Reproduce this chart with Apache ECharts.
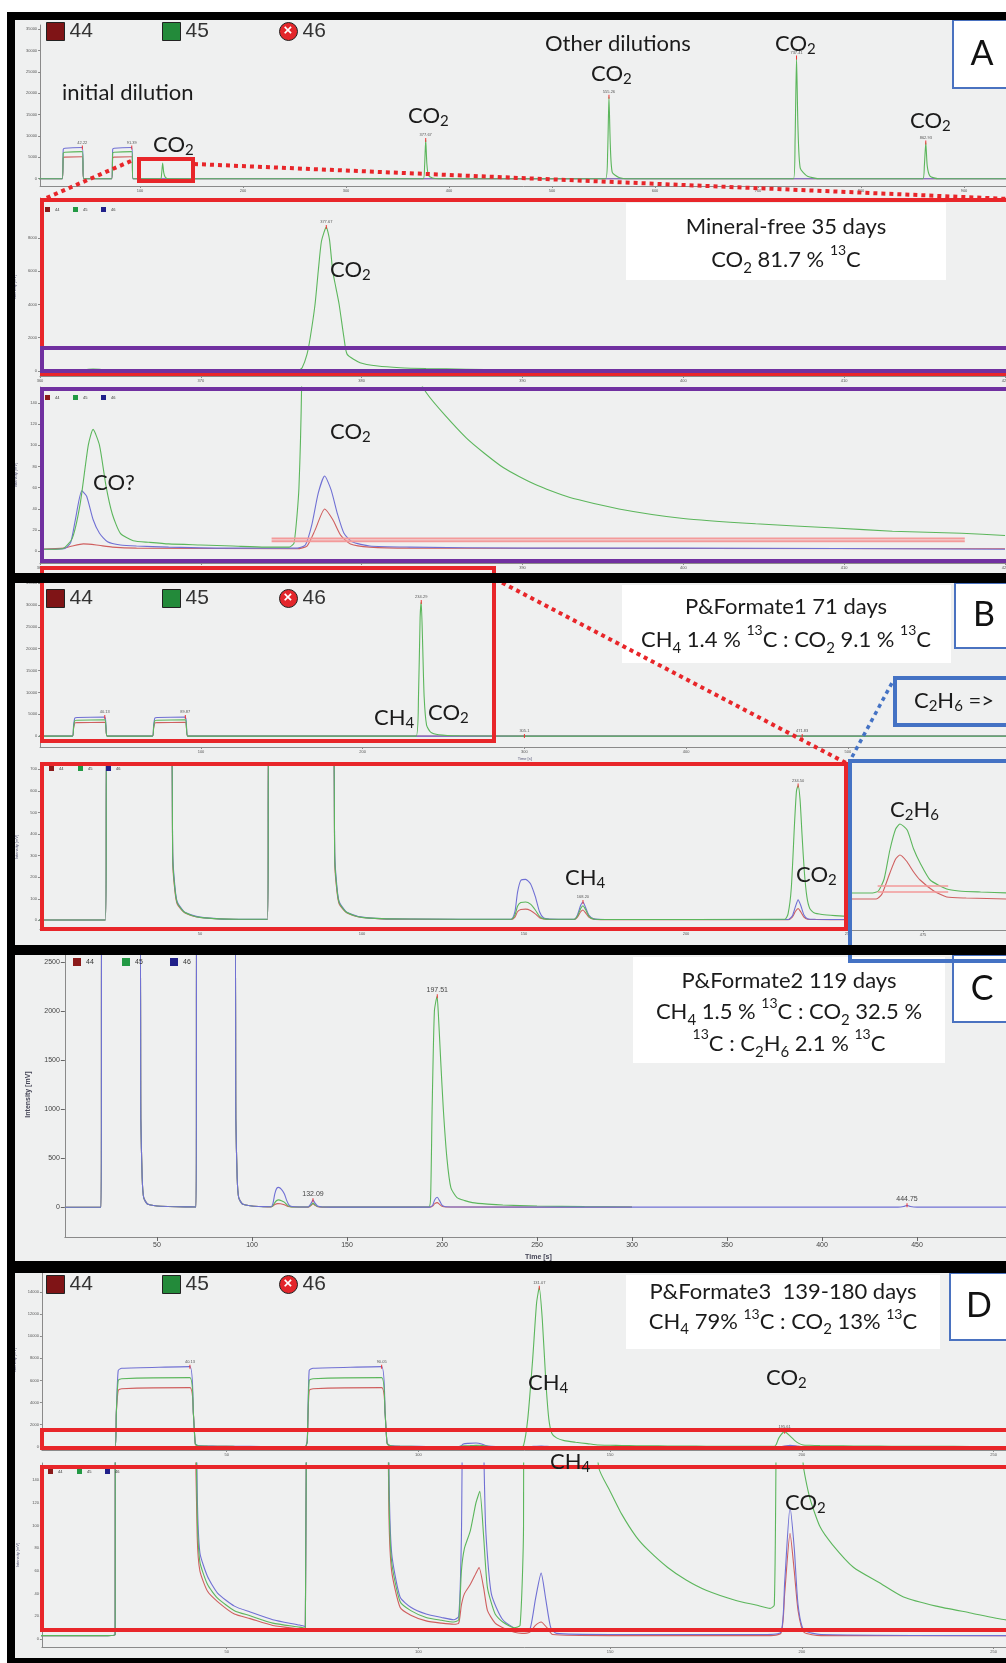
<!DOCTYPE html>
<html><head><meta charset="utf-8">
<script src="https://cdn.jsdelivr.net/npm/echarts@6/dist/echarts.min.js"></script>
<style>html,body{margin:0;padding:0;background:#fff}#c{width:1006px;height:1663px}</style>
</head><body><div id="c"></div>
<script>
// ---------------- DATA ----------------
// Panel A, top overview (time s, intensity mV)
const a1Red = [[0,0],[24.5,0],[25.5,4900],[27,5050],[44,5150],[45.3,0],[72.5,0],[73.5,4900],[75,5050],[92,5150],[93.3,0],[1000,0]];
const a1Green = [[0,0],[24.5,0],[25.5,6000],[27,6200],[44,6350],[45.3,0],[72.5,0],[73.5,6000],[75,6200],[92,6350],[93.3,0],[120,0],[121,1200],[122,3700],[123,1500],[124.5,400],[128,0],[375,0],[376.3,3000],[377.4,9100],[378.5,3500],[380,800],[384,150],[390,0],[552,0],[554,6000],[555.3,19200],[556.6,8000],[558.5,1500],[565,300],[575,0],[734.5,0],[736,9000],[737.4,28400],[738.8,12000],[741,2500],[748,600],[760,0],[860,0],[861.5,3000],[862.9,8500],[864.3,3000],[867,600],[875,0],[1000,0]];
const a1Blue = [[0,0],[24.5,0],[25.5,6900],[27,7150],[44,7300],[45.3,0],[72.5,0],[73.5,6900],[75,7150],[92,7300],[93.3,0],[1000,0]];
const a1Labels = [[44,7300,'42.22'],[92,7300,'91.39'],[377.4,9100,'377.67'],[555.3,19200,'555.26'],[737.4,28400,'737.41'],[862.9,8500,'862.93']];
// Panel A, zoomed (shared by both zoom levels)
const aRed = [[360,2],[361.5,3],[362,5],[362.7,7],[363.5,6],[364.5,4],[366,3],[376,2.5],[376.6,5],[377.1,20],[377.7,40],[378.2,30],[378.7,15],[379.3,7],[380.5,4],[383,3],[420,2.5]];
const aGreen = [[360,2],[361.4,2.5],[362,12],[362.5,45],[363,100],[363.3,115],[363.7,100],[364.1,62],[364.5,35],[365,17],[365.8,10],[366.8,8.5],[368,7],[370,6],[372,5],[374,4],[375.5,4],[375.8,8],[376.1,60],[376.3,200],[376.6,1000],[376.8,2000],[377.1,4000],[377.3,6000],[377.5,7800],[377.8,8650],[378.0,7900],[378.2,6000],[378.4,5000],[378.6,4000],[378.9,2000],[379.1,1000],[379.9,500],[381,300],[382.4,200],[384,150],[386.5,107],[388.8,79],[390.8,63],[392.9,51],[396,40],[400,31],[404.5,26],[409.4,22],[413,19],[417.3,17],[420,15]];
const aBlue = [[360,2],[361.5,2.5],[361.9,8],[362.2,30],[362.6,57],[362.9,52],[363.3,30],[363.7,17],[364.2,9],[365,6],[366,5],[368,4],[372,3],[376,3],[376.5,6],[376.9,25],[377.3,55],[377.7,71],[378.1,58],[378.5,35],[378.9,17],[379.4,9],[380.5,5],[383,4],[390,3],[400,3],[420,2]];
const aInt1 = [[374.4,9.5],[417.5,9.5]];
const aInt2 = [[374.4,12],[417.5,12]];
// Panel B overview
const b1Red = [[0,0],[20.5,0],[21.2,1800],[22,3000],[23.5,3080],[40.5,3150],[41.2,1800],[42,0],[70,0],[70.7,1800],[71.5,3000],[73,3080],[90.3,3150],[91,1800],[91.8,0],[600,0]];
const b1Green = [[0,0],[20.5,0],[21.2,2000],[22,3550],[23.5,3620],[40.5,3700],[41.2,2000],[42,0],[70,0],[70.7,2000],[71.5,3550],[73,3620],[90.3,3700],[91,2000],[91.8,0],[233,0],[234.5,9000],[235.5,27000],[236.2,30700],[237,22000],[238,9000],[239.5,2500],[242,900],[247,300],[260,60],[300,0],[600,0]];
const b1Blue = [[0,0],[20.5,0],[21.2,2500],[22,4150],[23.5,4250],[40.5,4360],[41.2,2500],[42,0],[70,0],[70.7,2500],[71.5,4150],[73,4250],[90.3,4360],[91,2500],[91.8,0],[600,0]];
const b1Labels = [[40.5,4360,'40.13'],[90.3,4360,'89.87'],[236.2,30700,'234.29'],[300,0,'305.1'],[471.8,0,'471.83']];
// Panel B zoom
const b2Red = [[0,2],[20.8,2],[21.3,900],[41,900],[41.6,260],[42.3,130],[43,75],[45,38],[47.5,21],[50,13],[56,6],[62,4],[70.8,4],[71.3,900],[91,900],[91.6,260],[92.3,130],[93,75],[95,38],[97.5,21],[100,13],[106,7],[115,5],[146,4],[147.2,15],[148,40],[149,50],[150.5,52],[152,46],[153.5,30],[154.8,12],[156,6],[158,4],[165.5,4],[166.5,15],[167.5,40],[168.2,48],[169,35],[170,15],[171.5,5],[175,3],[231.5,3],[232.8,15],[233.8,42],[234.6,55],[235.4,40],[236.4,15],[237.5,5],[240,4],[250,3]];
const b2Green = [[0,2],[20.8,2],[21.3,900],[41,900],[41.6,280],[42.3,140],[43,80],[45,40],[47.5,23],[50,14],[56,7],[62,5],[70.8,5],[71.3,900],[91,900],[91.6,280],[92.3,140],[93,80],[95,40],[97.5,23],[100,14],[106,8],[115,6],[146,5],[147.2,25],[148,65],[149,83],[150.5,85],[152,75],[153.5,48],[154.8,18],[156,8],[158,5],[165.5,5],[166.5,20],[167.5,55],[168.2,68],[169,50],[170,20],[171.5,6],[175,4],[230.5,5],[231.5,30],[232.5,150],[233.5,450],[234.1,600],[234.6,625],[235.2,560],[235.8,400],[236.5,230],[237.3,110],[238.2,55],[239.5,35],[242,27],[246,22],[250,19]];
const b2Blue = [[0,2],[20.8,2],[21.3,900],[41,900],[41.6,300],[42.3,150],[43,85],[45,42],[47.5,25],[50,15],[56,7],[62,5],[70.8,5],[71.3,900],[91,900],[91.6,300],[92.3,150],[93,85],[95,42],[97.5,25],[100,15],[106,8],[115,6],[146,5],[147.2,40],[148,130],[149,185],[150.5,190],[152,170],[153.5,110],[154.8,40],[156,12],[158,6],[165.5,5],[166.5,25],[167.5,70],[168.2,85],[169,60],[170,25],[171.5,7],[175,4],[231.5,4],[232.8,20],[233.8,65],[234.6,95],[235.4,70],[236.4,25],[237.5,8],[240,5],[250,4]];
const b2Labels = [[234.6,625,'234.50'],[168.2,85,'168.20']];
// Panel B, C2H6 inset (relative units)
const b3Red = [[465,0],[468.5,0],[469.3,5],[470.4,26],[471.2,40],[471.8,44],[472.7,38],[473.7,27],[474.6,19],[476.5,8],[478.3,2],[481,1],[487,0]];
const b3Green = [[465,6],[468,6],[468.8,8],[469.6,20],[470.4,49],[471.2,70],[471.8,75],[472.8,69],[473.7,50],[474.6,36],[476,19],[478.3,10],[480,8],[483,7],[487,6]];
const b3Int1 = [[468.7,7],[478.5,7]];
const b3Int2 = [[468.7,13],[478.5,13]];
// Panel C
const cRed = [[1.5,3],[20.5,3],[21,3000],[41,3000],[41.5,900],[42.2,300],[43,100],[45,35],[50,15],[56,10],[65,7],[70.5,6],[71,3000],[91,3000],[91.5,900],[92.2,300],[93,100],[95,35],[100,15],[106,9],[110,7],[111,15],[112,30],[113.5,40],[115,38],[117,28],[119,10],[121,5],[129.5,4],[131,20],[132.1,38],[133.2,22],[134.5,8],[137,4],[193.5,4],[195,15],[196.2,40],[197.5,50],[198.7,32],[200,12],[202,5],[300,4]];
const cGreen = [[1.5,3],[20.5,3],[21,3000],[41,3000],[41.5,900],[42.2,300],[43,100],[45,35],[50,15],[56,10],[65,7],[70.5,6],[71,3000],[91,3000],[91.5,900],[92.2,300],[93,100],[95,35],[100,15],[106,9],[110,8],[111,20],[112,50],[113,72],[114,78],[115.5,70],[117,55],[118.3,30],[119.5,12],[121,6],[125,5],[129.5,5],[131,25],[132.1,45],[133.2,28],[134.5,10],[137,5],[150,4],[193,5],[194,100],[194.8,1000],[196,2000],[197.4,2150],[198,2000],[199.3,1500],[200.7,1000],[202.6,500],[204.7,200],[207.9,100],[212,70],[216,50],[224,35],[232,25],[250,15],[275,9],[300,6]];
const cBlue = [[1.5,3],[20.5,3],[21,3000],[41,3000],[41.5,900],[42.2,300],[43,100],[45,35],[50,15],[56,10],[65,7],[70.5,6],[71,3000],[91,3000],[91.5,900],[92.2,300],[93,100],[95,35],[100,15],[106,9],[110,8],[111,40],[112,140],[113,195],[114,205],[115.5,185],[117,140],[118.3,70],[119.5,25],[121,10],[125,6],[129.5,6],[131,40],[132.1,75],[133.2,45],[134.5,15],[137,6],[150,4],[193.5,4],[195,20],[196.2,80],[197.5,105],[198.7,70],[200,25],[202,8],[210,5],[300,4],[440,4],[443,10],[444.75,22],[446.5,10],[450,4],[500,4]];
const cLabels = [[197.51,2150,'197.51'],[132.09,75,'132.09'],[444.75,22,'444.75']];
// Panel D (shared by both zoom levels)
const dRed = [[0,3],[19,3],[20.9,4],[21.2,3000],[21.7,5100],[22.6,5250],[40.4,5350],[41.3,3000],[41.8,200],[42.3,90],[43,60],[45,42],[47.6,33],[52,22],[56.1,18],[62,12],[69,9],[70.5,8.5],[71,500],[71.5,5100],[72.5,5250],[90.4,5350],[91.3,3000],[91.8,300],[92.3,110],[93,60],[95.2,28],[98,21],[102,16],[106,14],[109.2,13],[110.5,14],[111.2,30],[112,40],[113.5,48],[115,58],[115.8,63],[117,45],[118,25],[120,14],[122,10],[125,6],[127,5],[129,6],[130.5,12],[132,15],[133.5,10],[135,4],[150,3],[190,3],[194.5,5],[195.5,40],[196.9,93],[198,60],[199,25],[200.5,6],[205,3],[262,3]];
const dGreen = [[0,3],[19,3],[20.9,4],[21.2,3000],[21.7,6000],[22.6,6150],[40.4,6250],[41.3,3000],[41.8,250],[42.3,110],[43,68],[45,48],[47.6,36],[52,25],[56.1,20.5],[62,14],[69,10.5],[70.5,9.5],[71,500],[71.5,6000],[72.5,6150],[90.4,6250],[91.3,3000],[91.8,350],[92.3,130],[93,68],[95.2,33],[98,25],[102,19],[106,16.5],[109.2,15],[110.5,17],[111.2,60],[112,80],[113.5,95],[115,120],[116,130],[117,90],[118,45],[120,22],[122,15],[125,10],[126.5,12],[127.4,100],[128.5,2500],[129.8,8000],[130.8,13000],[131.5,14400],[132.3,11500],[133.2,6000],[134,2500],[134.8,1200],[136,800],[138,550],[141,400],[144,280],[147,151],[150,130],[153,110],[156.8,90],[160,78],[165,63],[169.8,52],[175,43],[182.8,34],[188,30],[191.7,27],[192.8,30],[193.3,200],[194,800],[195.5,1360],[196.8,1000],[198,600],[199.2,300],[200.3,155],[202,125],[204.7,99],[208,83],[213.5,63],[220,50],[226.5,37],[235,29],[244,23],[253,17],[262,15]];
const dBlue = [[0,3],[19,3],[20.9,4],[21.2,3000],[21.7,6900],[22.6,7100],[40.4,7250],[41.3,3000],[41.8,300],[42.3,130],[43,76],[45,55],[47.6,40.5],[52,29],[56.1,23.8],[62,17],[69,12.3],[70.5,11],[71,500],[71.5,6900],[72.5,7100],[90.4,7250],[91.3,3000],[91.8,400],[92.3,150],[93,76],[95.2,37],[98,28],[102,22],[106,19],[109.2,17],[110.5,20],[111.2,90],[111.7,250],[113,300],[115,330],[116.5,250],[117.5,100],[119,40],[122,17],[127,7],[129,8],[130.5,35],[132,58],[133.2,35],[134.5,10],[136,5],[150,4],[190,4],[194.5,6],[195.5,50],[196.9,116],[198,80],[199,30],[200.5,8],[205,4],[262,3]];
const dLabels = [[40.4,7250,'40.13'],[90.4,7250,'90.05'],[131.5,14400,'131.07'],[195.5,1360,'195.61']];
// Tick values
const tA1x = [100,200,300,400,500,600,700,800,900], tA1y = [0,5000,10000,15000,20000,25000,30000,35000];
const tA2x = [360,370,380,390,400,410,420], tA2y = [0,2000,4000,6000,8000], tA3y = [0,20,40,60,80,100,120,140];
const tB1x = [100,200,300,400,500,600], tB1y = [0,5000,10000,15000,20000,25000,30000,35000];
const tB2x = [50,100,150,200,250], tB2y = [0,100,200,300,400,500,600,700], tB3x = [475];
const tCx = [50,100,150,200,250,300,350,400,450,500], tCy = [0,500,1000,1500,2000,2500];
const tDx = [50,100,150,200,250], tD1y = [0,2000,4000,6000,8000,10000,12000,14000], tD2y = [0,20,40,60,80,100,120,140];

// ---------------- STYLE / BUILD ----------------
const F = "Lato, 'Open Sans', sans-serif";
const FA = "'Liberation Sans', Arial, sans-serif";
const RED = '#cf5f5f', GRN = '#5cb65c', BLU = '#7070d4';

const grids = [], xAxes = [], yAxes = [], series = [], legends = [], gfx = [];

function addGrid(left, width, top, height){ grids.push({left, width, top, height, containLabel:false, outerBoundsMode:'none'}); return grids.length-1; }
function ax(gi, min, max, ticks, fs, extra){
  return Object.assign({gridIndex:gi, type:'value', min, max,
    axisLine:{show:true, onZero:false, lineStyle:{color:'#8a8a8a', width:1}},
    axisTick:{show:true, length:2, customValues:ticks, lineStyle:{color:'#8a8a8a'}},
    axisLabel:{fontSize:fs, color:'#555', margin:3, customValues:ticks, fontFamily:FA, formatter:v=>String(v)},
    splitLine:{show:false}}, extra||{});
}
function mp(list, fs, col){
  return {symbol:'rect', symbolSize:[1,4], itemStyle:{color:'#e33'}, silent:true,
    label:{show:true, position:'top', distance:1, fontSize:fs, color:col||'#555', fontFamily:FA, formatter:p=>p.name},
    data:list.map(d=>({coord:[d[0],d[1]], name:d[2]}))};
}
function S(name, gi, data, color, extra){
  series.push(Object.assign({type:'line', name, xAxisIndex:gi, yAxisIndex:gi, data, showSymbol:false, symbol:'none',
    smooth:0.2, clip:true, lineStyle:{width:1.1, color}, itemStyle:{color}, silent:true, z:3}, extra||{}));
}
function trio(gi, r, g, b, lab, fs){
  S('44', gi, r, RED); S('46', gi, b, BLU); S('45', gi, g, GRN, lab ? {markPoint: mp(lab, fs)} : {});
}
const yName = (gap)=>({name:'Intensity [mV]', nameLocation:'middle', nameGap:gap, nameTextStyle:{fontSize:4, color:'#557'}});
// grids (left, width, top, height)
const gA1 = addGrid(37+3*1.03, 997*1.03, 25, 161);
xAxes.push(ax(gA1, 3, 1000, tA1x, 4)); yAxes.push(ax(gA1, -1700, 36000, tA1y, 4, yName(24)));
trio(gA1, a1Red, a1Green, a1Blue, a1Labels, 4);

const gA2 = addGrid(40, 965, 198, 178);
xAxes.push(ax(gA2, 360, 420, tA2x, 4)); yAxes.push(ax(gA2, -300, 10400, tA2y, 4, yName(22)));
trio(gA2, aRed, aGreen, aBlue, [[377.8,8650,'377.67']], 4);

const gA3 = addGrid(40, 965, 387, 176);
xAxes.push(ax(gA3, 360, 420, tA2x, 4)); yAxes.push(ax(gA3, -11, 155, tA3y, 4, yName(22)));
trio(gA3, aRed, aGreen, aBlue, null, 4);
S('int', gA3, aInt1, '#f39a9a', {smooth:false, lineStyle:{width:2, color:'#f39a9a'}});
S('int', gA3, aInt2, '#f39a9a', {smooth:false, lineStyle:{width:2, color:'#f39a9a'}});

const gB1 = addGrid(39.3+0.5*1.617, 599.5*1.617, 581, 166);
xAxes.push(ax(gB1, 0.5, 600, tB1x, 4, {name:'Time [s]', nameLocation:'middle', nameGap:10, nameTextStyle:{fontSize:4, color:'#557'}}));
yAxes.push(ax(gB1, -2500, 35500, tB1y, 4, yName(24)));
trio(gB1, b1Red, b1Green, b1Blue, b1Labels, 4);

const gB2 = addGrid(38+0.6*3.24, 249.4*3.24, 765, 164);
xAxes.push(ax(gB2, 0.6, 250, tB2x, 4)); yAxes.push(ax(gB2, -40, 720, tB2y, 4, yName(20)));
trio(gB2, b2Red, b2Green, b2Blue, b2Labels, 4);

const gB3 = addGrid(851, 22*7.2, 761, 169);
xAxes.push(ax(gB3, 465, 487, tB3x, 4)); yAxes.push(ax(gB3, -31, 138, [], 4, {show:false}));
S('44', gB3, b3Red, RED); S('45', gB3, b3Green, GRN);
S('int', gB3, b3Int1, '#f39a9a', {smooth:false, lineStyle:{width:1.5, color:'#f39a9a'}});
S('int', gB3, b3Int2, '#f39a9a', {smooth:false, lineStyle:{width:1.5, color:'#f39a9a'}});

const gC = addGrid(62+1.5*1.9, 498.5*1.9, 952, 285);
xAxes.push(ax(gC, 1.5, 500, tCx, 7, {name:'Time [s]', nameLocation:'middle', nameGap:17, nameTextStyle:{fontSize:7, fontWeight:'bold', color:'#445'}, axisLabel:{fontSize:7, color:'#444', margin:5, customValues:tCx, fontFamily:FA, formatter:v=>String(v)}, axisTick:{show:true, length:4, customValues:tCx, lineStyle:{color:'#666'}}}));
yAxes.push(ax(gC, -300, 2600, tCy, 7, {name:'Intensity [mV]', nameLocation:'middle', nameGap:33, nameTextStyle:{fontSize:7, fontWeight:'bold', color:'#445'}, axisLabel:{fontSize:7, color:'#444', margin:5, customValues:tCy, fontFamily:FA, formatter:v=>String(v)}, axisTick:{show:true, length:4, customValues:tCy, lineStyle:{color:'#666'}}}));
S('44', gC, cRed, RED); S('45', gC, cGreen, GRN); S('46', gC, cBlue, BLU, {markPoint: mp(cLabels, 7, '#444')});

const gD1 = addGrid(35+1.8*3.8346, 260.2*3.8346, 1270, 180);
xAxes.push(ax(gD1, 1.8, 262, tDx, 4)); yAxes.push(ax(gD1, -300, 16000, tD1y, 4, yName(24)));
trio(gD1, dRed, dGreen, dBlue, dLabels, 4);

const gD2 = addGrid(35+1.8*3.8346, 260.2*3.8346, 1463, 184);
xAxes.push(ax(gD2, 1.8, 262, tDx, 4)); yAxes.push(ax(gD2, -7, 155, tD2y, 4, yName(22)));
trio(gD2, dRed, dGreen, dBlue, null, 4);

// legends (one component per item for exact placement)
function leg(x, y, name, size, fs, color, icon, border){
  legends.push({left:x, top:y, padding:0, itemWidth:size, itemHeight:size, selectedMode:false, z:80,
    data:[{name, icon, itemStyle:{color, borderColor:'#222', borderWidth:border||0}}],
    textStyle:{fontSize:fs, color:'#333', fontFamily:FA}});
}
function bigLeg(y){
  leg(46, y, '44', 18, 21, '#7f1416', 'rect', 1);
  leg(162, y, '45', 18, 21, '#238a3a', 'rect', 1);
  leg(279, y, '46', 18, 21, '#e3262b', 'circle', 1);
  gfx.push({type:'text', x:288, y:y+9.5, z:90, silent:true, style:{text:'×', fontSize:15, fontWeight:'bold', fontFamily:FA, fill:'#fff', align:'center', textAlign:'center', verticalAlign:'middle', textVerticalAlign:'middle'}});
}
function smallLeg(xs, y, s, fs){
  leg(xs[0], y, '44', s, fs, '#8b1a1a', 'rect'); leg(xs[1], y, '45', s, fs, '#229944', 'rect'); leg(xs[2], y, '46', s, fs, '#20208a', 'rect');
}
bigLeg(21); bigLeg(588); bigLeg(1274);
smallLeg([45,73,101], 207, 5, 4); smallLeg([45,73,101], 395, 5, 4); smallLeg([49,78,106], 766, 5, 4);
smallLeg([73,122,170], 958, 8, 7); smallLeg([48,77,105], 1469, 5, 4);

// ---------------- DECORATION ----------------
function rect(x,y,w,h,fill,stroke,lw,z,dash){ gfx.push({type:'rect', silent:true, z:z, shape:{x,y,width:w,height:h}, style:{fill:fill||'none', stroke:stroke||null, lineWidth:lw||0, lineDash:dash||null}}); }
function line(x1,y1,x2,y2,color,lw,dash,z){ gfx.push({type:'line', silent:true, z:z||70, shape:{x1,y1,x2,y2}, style:{stroke:color, lineWidth:lw, lineDash:dash||null}}); }
function rt(s){
  return s.split('\n').map(l=>{ let o='', m; const re=/_\{([^}]*)\}|\^\{([^}]*)\}|([^_^]+)/g;
    while((m=re.exec(l))){ if(m[1]!==undefined) o+='{b|'+m[1]+'}'; else if(m[2]!==undefined) o+='{p|'+m[2]+'}'; else o+='{n|'+m[3]+'}'; }
    return o; }).join('\n');
}
function R(size,L){ const c='#1b1b1b'; return {
  n:{fontSize:size, lineHeight:L, fontFamily:F, fill:c, color:c},
  b:{fontSize:Math.round(size*0.68), lineHeight:L-14, verticalAlign:'bottom', fontFamily:F, fill:c, color:c},
  p:{fontSize:Math.round(size*0.62), lineHeight:L-10, verticalAlign:'top', fontFamily:F, fill:c, color:c}}; }
function txt(x,y,s,size,L,align){ gfx.push({type:'text', x, y, z:75, silent:true, style:{text:rt(s), fontSize:size, fontFamily:F, fill:'#1b1b1b', lineHeight:L, align, textAlign:align, verticalAlign:'middle', textVerticalAlign:'middle', rich:R(size,L)}}); }

// panel backgrounds
rect(15,20,1000,1640,'#eff0f0',null,0,-20);
// white info boxes
rect(626,203,320,77,'#ffffff',null,0,50);
rect(622,585,329,78,'#ffffff',null,0,50);
rect(633,957,312,106,'#ffffff',null,0,50);
rect(626,1275,314,74,'#ffffff',null,0,50);
// letter boxes
[[953,20,68,'A',54],[955,583,65,'B',615],[953,955,67,'C',989],[950,1273,67,'D',1306]].forEach(b=>{
  rect(b[0],b[1],70,b[2],'#ffffff','#4a72c0',2,55);
  gfx.push({type:'text', x:b[0]+29, y:b[4], z:76, silent:true, style:{text:b[3], fontSize:34, fontFamily:F, fill:'#111', align:'center', textAlign:'center', verticalAlign:'middle', textVerticalAlign:'middle'}});
});
// coloured highlight frames
const RC='#e8262a', PC='#7030a0', BC='#4472c4';
rect(139,159,54,22,null,RC,4,70);
rect(42,200,972,174,null,RC,4,70);
rect(42,348,972,23,null,PC,4,71);
rect(42,389,972,172,null,PC,4,70);
rect(42,568,452,173,null,RC,4,70);
rect(42,764,804,165,null,RC,4,70);
rect(850,761,170,200,null,BC,4,70);
rect(895,678,120,47,null,BC,4,70);
rect(42,1430,972,18,null,RC,4,70);
rect(42,1467,972,163,null,RC,4,70);
line(131,161,44,199,RC,4,[4,4]);
line(194,164,1010,199,RC,4,[4,4]);
line(495,579,846,763,RC,4,[4,4]);
line(852,757,893,681,BC,3.5,[4,4]);
// annotations
txt(62,93,'initial dilution',22,26,'left');
txt(153,145,'CO_{2}',22,26,'left');
txt(408,116,'CO_{2}',22,26,'left');
txt(545,44,'Other dilutions',22,26,'left');
txt(591,74,'CO_{2}',22,26,'left');
txt(775,44,'CO_{2}',22,26,'left');
txt(910,121,'CO_{2}',22,26,'left');
txt(330,270,'CO_{2}',22,26,'left');
txt(93,483,'CO?',22,26,'left');
txt(330,432,'CO_{2}',22,26,'left');
txt(786,243,'Mineral-free 35 days\nCO_{2} 81.7 % ^{13}C',22,33,'center');
txt(374,718,'CH_{4}',22,26,'left');
txt(428,713,'CO_{2}',22,26,'left');
txt(954,701,'C_{2}H_{6} =>',22,26,'center');
txt(565,878,'CH_{4}',22,26,'left');
txt(796,875,'CO_{2}',22,26,'left');
txt(890,810,'C_{2}H_{6}',22,26,'left');
txt(786,623,'P&Formate1 71 days\nCH_{4} 1.4 % ^{13}C : CO_{2} 9.1 % ^{13}C',22,33,'center');
txt(789,1012,'P&Formate2 119 days\nCH_{4} 1.5 % ^{13}C : CO_{2} 32.5 %\n^{13}C : C_{2}H_{6} 2.1 % ^{13}C',22,31.5,'center');
txt(528,1383,'CH_{4}',22,26,'left');
txt(766,1378,'CO_{2}',22,26,'left');
txt(550,1462,'CH_{4}',22,26,'left');
txt(785,1503,'CO_{2}',22,26,'left');
txt(783,1307,'P&Formate3  139-180 days\nCH_{4} 79% ^{13}C : CO_{2} 13% ^{13}C',22,30,'center');
// black frame
rect(7,12,1010,8,'#000',null,0,200);
rect(7,12,8,1651,'#000',null,0,200);
rect(7,573,1010,10,'#000',null,0,200);
rect(7,945,1010,10,'#000',null,0,200);
rect(7,1261,1010,12,'#000',null,0,200);
rect(7,1658,1010,5,'#000',null,0,200);

const chart = echarts.init(document.getElementById('c'), null, {renderer:'canvas'});
chart.setOption({animation:false, backgroundColor:'#ffffff', grid:grids, xAxis:xAxes, yAxis:yAxes, legend:legends, series, graphic:{elements:gfx}});
</script></body></html>
